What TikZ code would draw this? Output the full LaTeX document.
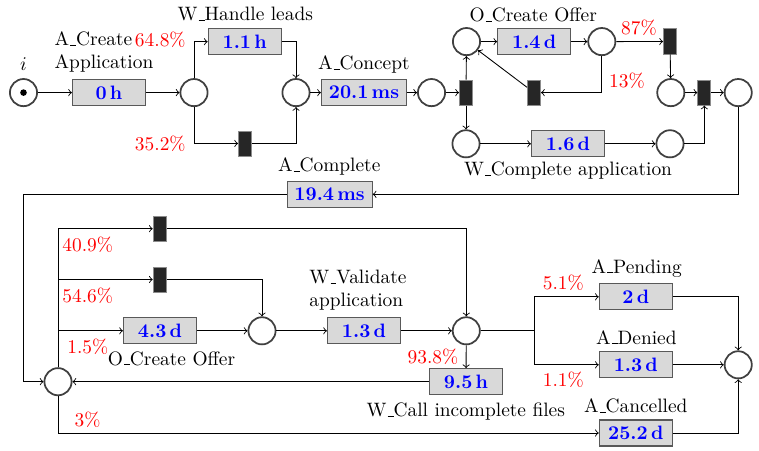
\documentclass[tikz,border=0pt]{standalone}
\newcommand{\usc}{\leavevmode\kern.06em\vbox{\hrule width.3em}}
\begin{document}
\begin{tikzpicture}[x=0.5155pt,y=-0.5155pt,
  place/.style={circle, draw=black!75, line width=0.9pt, minimum size=14pt, inner sep=0pt},
  trans/.style={rectangle, draw=black!45, fill=black!85, line width=0.5pt, minimum width=6.7pt, minimum height=12.9pt, inner sep=0pt},
  act/.style={rectangle, draw=black!65, fill=black!15, line width=0.6pt, minimum width=37.6pt, minimum height=13.4pt, inner xsep=3.8pt, inner ysep=0pt, font=\bfseries, text=blue},
  lbl/.style={anchor=base, inner sep=0pt},
  pct/.style={anchor=base, inner sep=0pt, text=red},
  arc/.style={->, line width=0.45pt},
  ln/.style={line width=0.45pt}]
\useasboundingbox (0,0) rectangle (759,451);

% places
\node[place] (pi) at (23.5,92.6) {};
\fill (pi.center) circle (1.7pt);
\node[place] (p1) at (194,92.6) {};
\node[place] (p2) at (296,92.6) {};
\node[place] (p3) at (431.5,92.6) {};
\node[place] (p4) at (466.5,41.6) {};
\node[place] (p5) at (601.8,41.6) {};
\node[place] (p6) at (670.8,92.6) {};
\node[place] (p7) at (738.2,92.6) {};
\node[place] (p8) at (466,143.8) {};
\node[place] (p9) at (670,143.8) {};
\node[place] (p10) at (58,381.7) {};
\node[place] (p11) at (262,330.8) {};
\node[place] (p12) at (466.3,330.8) {};
\node[place] (p13) at (738.2,364.8) {};

% silent transitions
\node[trans] (t1) at (245,143.5) {};
\node[trans] (t2) at (466,92.6) {};
\node[trans] (t3) at (670,41.5) {};
\node[trans] (t4) at (534,92.6) {};
\node[trans] (t5) at (704.3,92.6) {};
\node[trans] (t6) at (159.7,228.7) {};
\node[trans] (t7) at (159.7,279.5) {};

% activities
\node[act] (b0) at (109,92.6) {0\,h};
\node[act] (b1) at (244.7,41.7) {1.1\,h};
\node[act] (b2) at (364,92.6) {20.1\,ms};
\node[act] (b3) at (534.2,41.6) {1.4\,d};
\node[act] (b4) at (568,143.8) {1.6\,d};
\node[act] (b5) at (329.6,194.3) {19.4\,ms};
\node[act] (b6) at (160,330.8) {4.3\,d};
\node[act] (b7) at (364,330.8) {1.3\,d};
\node[act] (b8) at (466,381.7) {9.5\,h};
\node[act] (b9) at (635.8,296.8) {2\,d};
\node[act] (b10) at (635.8,364.8) {1.3\,d};
\node[act] (b11) at (635.8,433) {25.2\,d};

% labels
\node[lbl] (li) at (23.5,71) {$i$};
\node[align=left, anchor=west, inner sep=0pt] (lac) at (54.3,52) {A\usc Create\\Application};
\node[lbl] (lhl) at (245.3,20.7) {W\usc Handle leads};
\node[lbl] (lco) at (363.8,69.3) {A\usc Concept};
\node[lbl] (lof) at (533.3,21.7) {O\usc Create Offer};
\node[lbl] (lca) at (568,175.7) {W\usc Complete application};
\node[lbl] (lcp) at (329.2,171.5) {A\usc Complete};
\node[lbl] (lof2) at (171.5,365) {O\usc Create Offer};
\node[align=left, anchor=west, inner sep=0pt] (lwv) at (309,290.5) {W\usc Validate\\application};
\node[lbl] (lci) at (465.8,416.5) {W\usc Call incomplete files};
\node[lbl] (lpe) at (636.7,273) {A\usc Pending};
\node[lbl] (lde) at (636.3,344) {A\usc Denied};
\node[lbl] (lcn) at (635.8,412.5) {A\usc Cancelled};

% percentages
\node[pct] (q1) at (160.3,47) {64.8\%};
\node[pct] (q2) at (160.3,150.5) {35.2\%};
\node[pct] (q3) at (639,34.5) {87\%};
\node[pct] (q4) at (627,87.3) {13\%};
\node[pct] (q5) at (87.7,251.5) {40.9\%};
\node[pct] (q6) at (87.7,302.5) {54.6\%};
\node[pct] (q7) at (87.8,353) {1.5\%};
\node[pct] (q8) at (87.5,426) {3\%};
\node[pct] (q9) at (433,363) {93.8\%};
\node[pct] (q10) at (563.3,289.5) {5.1\%};
\node[pct] (q11) at (563.3,386) {1.1\%};

% helper coordinates
\coordinate (c1) at (23.3,194.3);
\coordinate (j) at (534,330.8);

% arcs, top part
\draw[arc] (pi) -- (b0);
\draw[arc] (b0) -- (p1);
\draw[arc] (p1) |- (b1);
\draw[arc] (b1) -| (p2);
\draw[arc] (p1) |- (t1);
\draw[arc] (t1) -| (p2);
\draw[arc] (p2) -- (b2);
\draw[arc] (b2) -- (p3);
\draw[arc] (p3) -- (t2);
\draw[arc] (t2) -- (p4);
\draw[arc] (t2) -- (p8);
\draw[arc] (p4) -- (b3);
\draw[arc] (b3) -- (p5);
\draw[arc] (p5) -- (t3);
\draw[arc] (t3) -- (p6);
\draw[arc] (p5) |- (t4);
\draw[arc] (t4) -- (p4);
\draw[arc] (p6) -- (t5);
\draw[arc] (t5) -- (p7);
\draw[arc] (p8) -- (b4);
\draw[arc] (b4) -- (p9);
\draw[arc] (p9) -| (t5);
\draw[arc] (p7) |- (b5);
\draw[arc] (b5) -- (c1) |- (p10);

% arcs, bottom part
\draw[arc] (p10) |- (t6);
\draw[arc] (p10) |- (t7);
\draw[arc] (p10) |- (b6);
\draw[arc] (t6) -| (p12);
\draw[arc] (t7) -| (p11);
\draw[arc] (b6) -- (p11);
\draw[arc] (p11) -- (b7);
\draw[arc] (b7) -- (p12);
\draw[arc] (p12) -- (b8);
\draw[arc] (b8) -- (p10);
\draw[ln] (p12) -- (j);
\draw[arc] (j) |- (b9);
\draw[arc] (j) |- (b10);
\draw[arc] (b9) -| (p13);
\draw[arc] (b10) -- (p13);
\draw[arc] (p10) |- (b11);
\draw[arc] (b11) -| (p13);
\end{tikzpicture}
\end{document}
